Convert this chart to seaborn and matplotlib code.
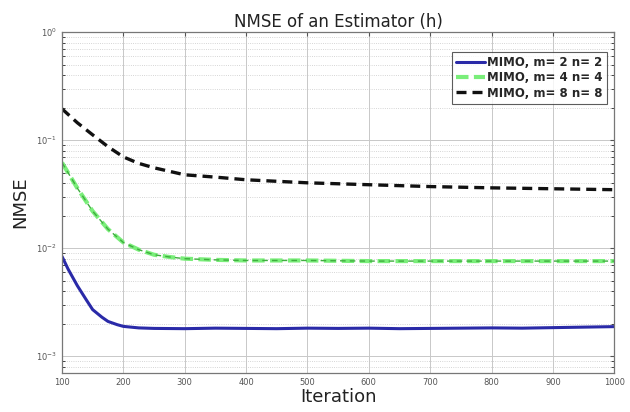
import matplotlib
matplotlib.use("Agg")
import matplotlib.pyplot as plt
import seaborn as sns
import pandas as pd
import numpy as np
from matplotlib.ticker import LogLocator, NullFormatter

# ---- data ----
iter_m2 = [100, 110, 125, 140, 150, 165, 175, 190, 200, 225, 250, 300, 350, 400, 450, 500, 550, 600, 650, 700, 750, 800, 850, 900, 950, 1000]
nmse_m2 = [0.0084, 0.0064, 0.0045, 0.0033, 0.0027, 0.0023, 0.0021, 0.00196, 0.00189, 0.00183, 0.00181, 0.00180, 0.00182, 0.00181, 0.00180, 0.00182, 0.00181, 0.00182, 0.00180, 0.00181, 0.00182, 0.00183, 0.00182, 0.00184, 0.00186, 0.00188]

iter_m4 = [100, 125, 150, 175, 200, 225, 250, 275, 300, 350, 400, 500, 600, 700, 800, 900, 1000]
nmse_m4 = [0.0620, 0.0360, 0.0220, 0.0150, 0.0113, 0.0097, 0.0087, 0.0083, 0.0080, 0.0078, 0.0077, 0.0077, 0.0076, 0.0076, 0.0076, 0.0076, 0.0076]

iter_m8 = [100, 125, 150, 175, 200, 225, 250, 300, 350, 400, 500, 600, 700, 800, 900, 1000]
nmse_m8 = [0.195, 0.145, 0.112, 0.087, 0.070, 0.061, 0.0555, 0.0478, 0.0455, 0.0430, 0.0403, 0.0387, 0.0372, 0.0362, 0.0355, 0.0348]

labels = ["MIMO, m= 2 n= 2", "MIMO, m= 4 n= 4", "MIMO, m= 8 n= 8"]
x_ticks = [100, 200, 300, 400, 500, 600, 700, 800, 900, 1000]

sns.set_style("white")
plt.rcParams['font.family'] = ['DejaVu Sans']

fig = plt.figure(figsize=(6.3, 4.12), dpi=100)
ax = fig.add_axes([0.0984, 0.0947, 0.8766, 0.8273])

df2 = pd.DataFrame({"Iteration": iter_m2, "NMSE": nmse_m2})
df4 = pd.DataFrame({"Iteration": iter_m4, "NMSE": nmse_m4})
df8 = pd.DataFrame({"Iteration": iter_m8, "NMSE": nmse_m8})

sns.lineplot(data=df2, x="Iteration", y="NMSE", ax=ax, color="#2a2aa8", lw=2.2,
             label=labels[0])
sns.lineplot(data=df4, x="Iteration", y="NMSE", ax=ax, color="#7aee7a", lw=3.0,
             linestyle=(0, (3, 1.3)), label=labels[1])
sns.lineplot(data=df4, x="Iteration", y="NMSE", ax=ax, color="#3fae3f", lw=1.0,
             linestyle=(0, (4, 3)), legend=False)
sns.lineplot(data=df8, x="Iteration", y="NMSE", ax=ax, color="#111111", lw=2.4,
             linestyle=(0, (3, 1.8)), label=labels[2])

ax.set_yscale("log")
ax.set_xlim(100, 1000)
ax.set_ylim(7e-4, 1)
ax.set_xticks(x_ticks)
ax.yaxis.set_major_locator(LogLocator(base=10, numticks=10))
ax.yaxis.set_minor_locator(LogLocator(base=10, subs=np.arange(2, 10), numticks=20))
ax.yaxis.set_minor_formatter(NullFormatter())

ax.grid(True, which="major", axis="both", color="#c8c8c8", lw=0.7, linestyle="-")
ax.grid(True, which="minor", axis="y", color="#c8c8c8", lw=0.6, linestyle=":")
ax.tick_params(axis="both", which="major", labelsize=6, colors="#555555", length=3, direction="in",
               top=True, right=True)
ax.tick_params(axis="y", which="minor", length=2, direction="in", right=True, left=True)
for s in ax.spines.values():
    s.set_color("#777777")
    s.set_linewidth(0.9)

ax.set_title("NMSE of an Estimator (h)", fontsize=12, color="#222222", pad=4)
ax.set_xlabel("Iteration", fontsize=13, color="#222222", labelpad=1)
ax.set_ylabel("NMSE", fontsize=13, color="#222222", labelpad=5)

leg = ax.legend(loc="upper right", bbox_to_anchor=(0.997, 0.96),
                frameon=True, fancybox=False, handlelength=2.4, handletextpad=0.2,
                borderpad=0.35, labelspacing=0.2, prop={"weight": "bold", "size": 8.5})
leg.get_frame().set_edgecolor("#333333")
leg.get_frame().set_linewidth(0.8)

fig.savefig("out.png", dpi=100)
